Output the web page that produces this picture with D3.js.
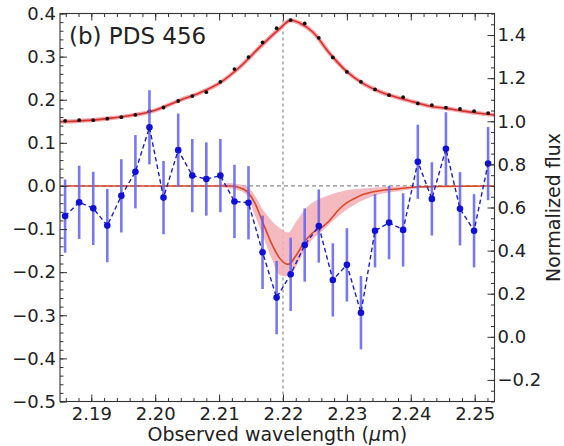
<!DOCTYPE html>
<html><head><meta charset="utf-8">
<script src="https://cdn.jsdelivr.net/npm/d3@7"></script>
<style>body{margin:0;background:#fff;} text{font-family:"DejaVu Sans",sans-serif;fill:#222;}</style>
</head><body><svg id="c" width="564" height="446"></svg>
<script>
// ---- data ----
const wavelength = [2.1859, 2.1881, 2.1903, 2.1925, 2.1947, 2.1969, 2.1991, 2.2013, 2.2036, 2.2058, 2.2080, 2.2102, 2.2124, 2.2146, 2.2168, 2.2190, 2.2212, 2.2234, 2.2256, 2.2278, 2.2300, 2.2322, 2.2344, 2.2366, 2.2388, 2.2411, 2.2433, 2.2455, 2.2477, 2.2499, 2.2521];
const fluxNorm = [1.002, 1.005, 1.005, 1.012, 1.019, 1.030, 1.047, 1.064, 1.094, 1.117, 1.135, 1.183, 1.242, 1.298, 1.366, 1.432, 1.469, 1.454, 1.387, 1.296, 1.229, 1.183, 1.148, 1.121, 1.112, 1.083, 1.075, 1.063, 1.057, 1.047, 1.038];
const residual = [-0.070, -0.038, -0.052, -0.092, -0.023, 0.033, 0.136, -0.027, 0.083, 0.024, 0.016, 0.024, -0.036, -0.039, -0.154, -0.259, -0.205, -0.137, -0.093, -0.218, -0.183, -0.294, -0.104, -0.085, -0.102, 0.056, -0.030, 0.086, -0.053, -0.104, 0.052];
const residualErr = [0.085, 0.085, 0.085, 0.085, 0.085, 0.085, 0.086, 0.085, 0.085, 0.085, 0.085, 0.085, 0.085, 0.085, 0.085, 0.085, 0.085, 0.085, 0.085, 0.085, 0.085, 0.085, 0.085, 0.085, 0.085, 0.086, 0.085, 0.085, 0.085, 0.085, 0.085];
const fitTopX = [2.1851, 2.1914, 2.1992, 2.2039, 2.2070, 2.2101, 2.2133, 2.2164, 2.2195, 2.2211, 2.2226, 2.2247, 2.2273, 2.2299, 2.2325, 2.2352, 2.2378, 2.2404, 2.2430, 2.2456, 2.2482, 2.2508, 2.2531];
const fitTopY = [0.998, 1.009, 1.044, 1.098, 1.132, 1.178, 1.253, 1.345, 1.430, 1.468, 1.456, 1.413, 1.315, 1.233, 1.176, 1.137, 1.111, 1.090, 1.070, 1.060, 1.047, 1.037, 1.029];
const absX = [2.1851, 2.2080, 2.2117, 2.2130, 2.2143, 2.2156, 2.2169, 2.2182, 2.2195, 2.2208, 2.2221, 2.2234, 2.2247, 2.2260, 2.2273, 2.2286, 2.2299, 2.2312, 2.2325, 2.2351, 2.2378, 2.2403, 2.2450, 2.2531];
const absY = [0, 0, 0, -0.003, -0.012, -0.040, -0.087, -0.133, -0.168, -0.182, -0.160, -0.129, -0.108, -0.097, -0.080, -0.057, -0.040, -0.029, -0.020, -0.011, -0.007, -0.003, -0.001, 0];
const bandX = [2.2080, 2.2100, 2.2117, 2.2130, 2.2143, 2.2156, 2.2169, 2.2182, 2.2195, 2.2208, 2.2221, 2.2234, 2.2247, 2.2260, 2.2273, 2.2299, 2.2325, 2.2351, 2.2378, 2.2403, 2.2450, 2.2500];
const bandLo = [0, -0.002, -0.006, -0.010, -0.021, -0.068, -0.118, -0.168, -0.207, -0.210, -0.185, -0.150, -0.122, -0.106, -0.088, -0.056, -0.033, -0.019, -0.013, -0.007, -0.002, 0];
const bandHi = [0, 0.003, 0.007, 0.004, 0.000, -0.022, -0.056, -0.080, -0.098, -0.108, -0.082, -0.055, -0.038, -0.028, -0.021, -0.010, -0.006, -0.003, -0.001, 0, 0, 0];
const xTicks = [2.19, 2.20, 2.21, 2.22, 2.23, 2.24, 2.25];
const leftTicks = [-0.5, -0.4, -0.3, -0.2, -0.1, 0.0, 0.1, 0.2, 0.3, 0.4];
const rightTicks = [-0.2, 0.0, 0.2, 0.4, 0.6, 0.8, 1.0, 1.2, 1.4];
const lineCenter = 2.22;
const panelLabel = "(b) PDS 456";
const xLabel = "Observed wavelength (";
const yRightLabel = "Normalized flux";

// ---- layout ----
const L = 60, R = 494.5, T = 13.5, B = 401.5;
const svg = d3.select("#c");
const x = d3.scaleLinear().domain([2.1851, 2.2531]).range([L, R]);
const yL = d3.scaleLinear().domain([-0.5, 0.4]).range([B, T]);
const yR = d3.scaleLinear().domain([-0.3, 1.5]).range([B, T]);

const plot = svg.append("g");
plot.append("defs").append("clipPath").attr("id", "clip")
  .append("rect").attr("x", L).attr("y", T).attr("width", R - L).attr("height", B - T);
const g = plot.append("g").attr("clip-path", "url(#clip)");

// reference dashed lines
g.append("line").attr("x1", L).attr("x2", R).attr("y1", yL(0)).attr("y2", yL(0))
  .attr("stroke", "#8a8a8a").attr("stroke-width", 1.2).attr("stroke-dasharray", "4,3");
g.append("line").attr("x1", x(lineCenter)).attr("x2", x(lineCenter)).attr("y1", T).attr("y2", B)
  .attr("stroke", "#8a8a8a").attr("stroke-width", 1.2).attr("stroke-dasharray", "3,3");

// pink band
const band = bandX.map((d, i) => ({x: d, lo: bandLo[i], hi: bandHi[i]}));
g.append("path").datum(band)
  .attr("d", d3.area().x(d => x(d.x)).y0(d => yL(d.lo)).y1(d => yL(d.hi)).curve(d3.curveMonotoneX))
  .attr("fill", "#f2aeb4").attr("opacity", 0.85);

// top fit halo + line
const topFit = fitTopX.map((d, i) => [d, fitTopY[i]]);
const topLine = d3.line().x(d => x(d[0])).y(d => yR(d[1])).curve(d3.curveCatmullRom.alpha(0.5));
g.append("path").datum(topFit).attr("d", topLine).attr("fill", "none")
  .attr("stroke", "#f3a9ae").attr("stroke-width", 4.2);
g.append("path").datum(topFit).attr("d", topLine).attr("fill", "none")
  .attr("stroke", "#d8312c").attr("stroke-width", 1.6);

// black data dots
g.selectAll("circle.flux").data(wavelength).enter().append("circle")
  .attr("cx", d => x(d)).attr("cy", (d, i) => yR(fluxNorm[i])).attr("r", 1.9).attr("fill", "#111");

// absorption model
const absFit = absX.map((d, i) => [d, absY[i]]);
g.append("path").datum(absFit)
  .attr("d", d3.line().x(d => x(d[0])).y(d => yL(d[1])).curve(d3.curveMonotoneX))
  .attr("fill", "none").attr("stroke", "#d9472a").attr("stroke-width", 1.6);

// blue error bars
g.selectAll("line.err").data(wavelength).enter().append("line")
  .attr("x1", d => x(d)).attr("x2", d => x(d))
  .attr("y1", (d, i) => yL(residual[i] - residualErr[i]))
  .attr("y2", (d, i) => yL(residual[i] + residualErr[i]))
  .attr("stroke", "#6161f2").attr("stroke-width", 2.6).attr("opacity", 0.85);

// blue dashed connecting line
g.append("path").datum(wavelength.map((d, i) => [d, residual[i]]))
  .attr("d", d3.line().x(d => x(d[0])).y(d => yL(d[1])))
  .attr("fill", "none").attr("stroke", "#1c1cc0").attr("stroke-width", 1.4).attr("stroke-dasharray", "4.5,3");

g.selectAll("circle.res").data(wavelength).enter().append("circle")
  .attr("cx", d => x(d)).attr("cy", (d, i) => yL(residual[i])).attr("r", 3.3).attr("fill", "#1010d8");

// ---- axes ----
const fs = 18;
function styleAxis(sel) {
  sel.select(".domain").remove();
  sel.selectAll(".tick line").attr("stroke", "#333").attr("stroke-width", 1);
  sel.selectAll(".tick text").attr("font-size", fs).attr("font-family", "DejaVu Sans").attr("fill", "#222");
}
const xMinor = d3.range(1093, 1127).map(i => +(i * 0.002).toFixed(3));
const yLMinor = d3.range(-25, 21).map(i => +(i * 0.02).toFixed(2));
const yRMinor = d3.range(-6, 31).map(i => +(i * 0.05).toFixed(2));

svg.append("g").attr("transform", `translate(0,${B})`)
  .call(d3.axisBottom(x).tickValues(xTicks).tickFormat(d3.format(".2f")).tickSize(-7).tickPadding(5.5)).call(styleAxis);
svg.append("g").attr("transform", `translate(0,${B})`)
  .call(d3.axisBottom(x).tickValues(xMinor).tickFormat("").tickSize(-3.5)).call(styleAxis);
svg.append("g").attr("transform", `translate(0,${T})`)
  .call(d3.axisTop(x).tickValues(xTicks).tickFormat("").tickSize(-7)).call(styleAxis);
svg.append("g").attr("transform", `translate(0,${T})`)
  .call(d3.axisTop(x).tickValues(xMinor).tickFormat("").tickSize(-3.5)).call(styleAxis);

svg.append("g").attr("transform", `translate(${L},0)`)
  .call(d3.axisLeft(yL).tickValues(leftTicks).tickFormat(d3.format(".1f")).tickSize(-7).tickPadding(4)).call(styleAxis);
svg.append("g").attr("transform", `translate(${L},0)`)
  .call(d3.axisLeft(yL).tickValues(yLMinor).tickFormat("").tickSize(-3.5)).call(styleAxis);

svg.append("g").attr("transform", `translate(${R},0)`)
  .call(d3.axisRight(yR).tickValues(rightTicks).tickFormat(d3.format(".1f")).tickSize(-7).tickPadding(3)).call(styleAxis);
svg.append("g").attr("transform", `translate(${R},0)`)
  .call(d3.axisRight(yR).tickValues(yRMinor).tickFormat("").tickSize(-3.5)).call(styleAxis);

// frame
svg.append("rect").attr("x", L).attr("y", T).attr("width", R - L).attr("height", B - T)
  .attr("fill", "none").attr("stroke", "#333").attr("stroke-width", 1.1);

// texts
svg.append("text").attr("x", 69).attr("y", 44).attr("font-size", 23).text(panelLabel);
const xl = svg.append("text").attr("x", (L + R) / 2).attr("y", 441).attr("text-anchor", "middle").attr("font-size", 19);
xl.append("tspan").text(xLabel);
xl.append("tspan").attr("font-style", "italic").text("\u03bc");
xl.append("tspan").text("m)");
svg.append("text").attr("transform", `translate(560,${(T + B) / 2}) rotate(-90)`)
  .attr("text-anchor", "middle").attr("font-size", 19).text(yRightLabel);
</script>
</body></html>
